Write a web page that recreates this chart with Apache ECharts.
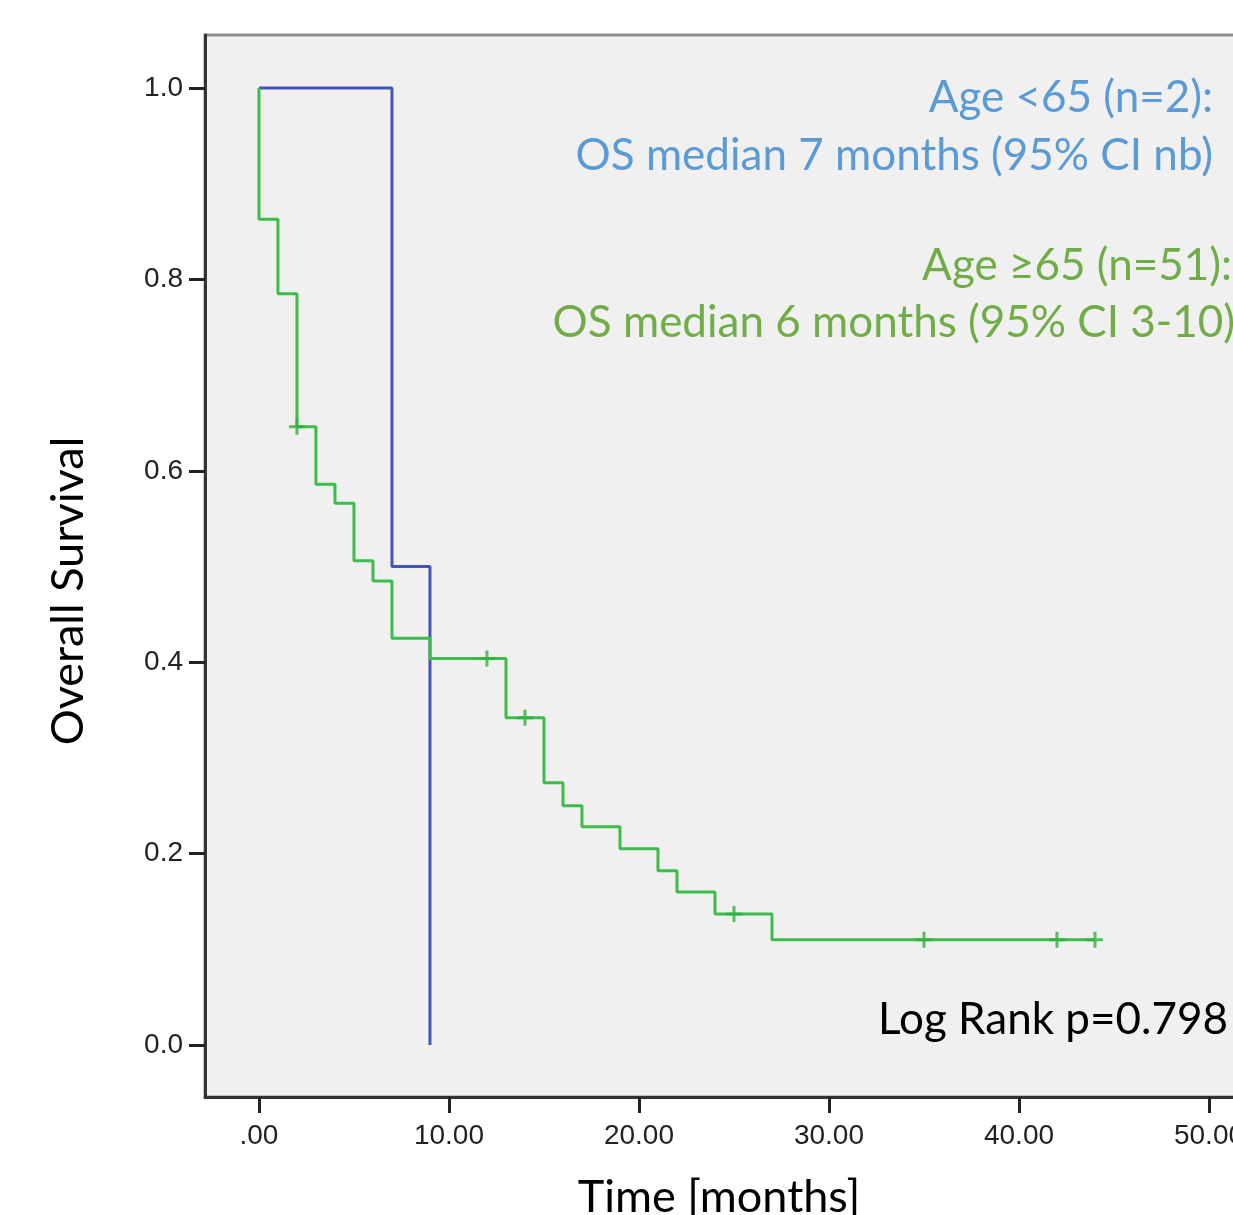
<!DOCTYPE html>
<html>
<head>
<meta charset="utf-8">
<script src="https://cdn.jsdelivr.net/npm/echarts@6/dist/echarts.min.js"></script>
<style>
  html, body { margin: 0; padding: 0; background: #fff; overflow: hidden; }
  /* plot box runs past the right edge of the picture, so the canvas is wider than the window */
  #chart { width: 1266px; height: 1215px; }
</style>
</head>
<body>
<div id="chart"></div>
<script>
// Kaplan-Meier, OS by age group
var youngTimes = [0, 7, 9];
var youngSurv = [1.0, 0.5, 0.0];

var oldTimes = [0, 0, 1, 2, 3, 4, 5, 6, 7, 9, 13, 15, 16, 17, 19, 21, 22, 24, 27, 44];
var oldSurv = [1.0, 0.863, 0.785, 0.646, 0.586, 0.566, 0.506, 0.485, 0.425, 0.404, 0.342, 0.274, 0.250, 0.228, 0.205, 0.182, 0.160, 0.137, 0.110, 0.110];

// censored cases (+)
var censorTimes = [2, 12, 14, 25, 35, 42, 44];
var censorSurv = [0.646, 0.404, 0.342, 0.137, 0.110, 0.110, 0.110];

var xTicks = [0, 10, 20, 30, 40, 50];
var xTickLabels = ['.00', '10.00', '20.00', '30.00', '40.00', '50.00'];
var yTicks = [0, 0.2, 0.4, 0.6, 0.8, 1.0];
var yTickLabels = ['0.0', '0.2', '0.4', '0.6', '0.8', '1.0'];

function pairs(xs, ys) {
    var out = [];
    for (var i = 0; i < xs.length; i++) out.push([xs[i], ys[i]]);
    return out;
}

var textFont = 'Lato, "Open Sans", sans-serif';
var plusSymbol = 'path://M-1.5,-8h3v16h-3zM-8,-1.5h16v3h-16z';

var option = {
    backgroundColor: '#fff',
    animation: false,
    grid: {
        left: 205,
        top: 35,
        right: 0,
        bottom: 118,
        outerBoundsMode: 'none', // keep the plot box where it is, names may sit near the edge
        show: true,
        backgroundColor: '#f0f0f0',
        borderColor: '#8c8c8c',
        borderWidth: 3
    },
    xAxis: {
        type: 'value',
        min: -2.84,
        max: 53,
        name: 'Time [months]',
        nameLocation: 'middle',
        nameGap: 78,
        nameTextStyle: {
            fontFamily: textFont,
            fontSize: 45,
            color: '#000',
            padding: [0, 33, 0, 0]
        },
        axisLine: { onZero: false, lineStyle: { color: '#333', width: 3 } },
        axisTick: {
            customValues: xTicks,
            length: 16,
            lineStyle: { color: '#222', width: 3 }
        },
        axisLabel: {
            customValues: xTicks,
            margin: 25,
            fontFamily: '"Liberation Sans", Arial, sans-serif',
            fontSize: 28,
            color: '#222',
            formatter: function(v) {
                return xTickLabels[xTicks.indexOf(v)];
            }
        },
        splitLine: { show: false }
    },
    yAxis: {
        type: 'value',
        min: -0.0543,
        max: 1.0554,
        name: 'Overall Survival',
        nameLocation: 'middle',
        nameGap: 114,
        nameTextStyle: {
            fontFamily: textFont,
            fontSize: 45,
            color: '#000',
            padding: [0, 50, 0, 0]
        },
        axisLine: { onZero: false, lineStyle: { color: '#333', width: 3 } },
        axisTick: {
            customValues: yTicks,
            length: 16,
            lineStyle: { color: '#222', width: 3 }
        },
        axisLabel: {
            customValues: yTicks,
            margin: 22,
            fontFamily: '"Liberation Sans", Arial, sans-serif',
            fontSize: 28,
            color: '#222',
            formatter: function(v) {
                return yTickLabels[yTicks.indexOf(v)];
            }
        },
        splitLine: { show: false }
    },
    series: [{
        name: 'Age <65',
        type: 'line',
        step: 'end',
        data: pairs(youngTimes, youngSurv),
        showSymbol: false,
        lineStyle: { color: '#4456b4', width: 3 },
        z: 2
    }, {
        name: 'Age >=65',
        type: 'line',
        step: 'end',
        data: pairs(oldTimes, oldSurv),
        showSymbol: false,
        lineStyle: { color: '#3dbb4c', width: 3 },
        z: 3
    }, {
        name: 'Censored',
        type: 'scatter',
        data: pairs(censorTimes, censorSurv),
        symbol: plusSymbol,
        symbolSize: 16,
        itemStyle: { color: '#2eb240' },
        z: 4
    }],
    graphic: [{
        type: 'text', right: 53, top: 76,
        style: { text: 'Age <65 (n=2):', font: '44px ' + textFont, fill: '#5b9bd5' }
    }, {
        type: 'text', right: 53, top: 134,
        style: { text: 'OS median 7 months (95% CI nb)', font: '44px ' + textFont, fill: '#5b9bd5' }
    }, {
        type: 'text', right: 34, top: 244,
        style: { text: 'Age \u226565 (n=51):', font: '44px ' + textFont, fill: '#70ad47' }
    }, {
        type: 'text', right: 31, top: 301,
        style: { text: 'OS median 6 months (95% CI 3-10)', font: '44px ' + textFont, fill: '#70ad47' }
    }, {
        type: 'text', right: 38, top: 998,
        style: { text: 'Log Rank p=0.798', font: '44px ' + textFont, fill: '#000' }
    }]
};

var myChart = echarts.init(document.getElementById('chart'));
myChart.setOption(option);
</script>
</body>
</html>
